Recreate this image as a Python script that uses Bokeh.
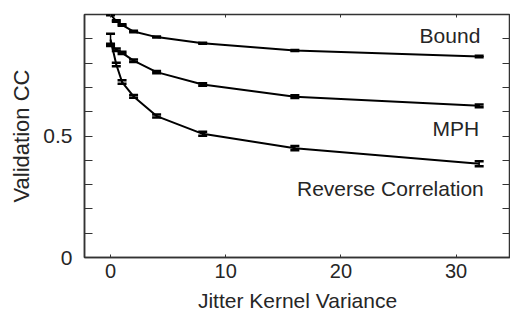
from bokeh.plotting import figure
from bokeh.models import (ColumnDataSource, Whisker, TeeHead, FixedTicker, LinearAxis,
                          Range1d, Label)
from bokeh.embed import file_html
from bokeh.resources import INLINE

# ---- data ----
variance = [0, 0.5, 1, 2, 4, 8, 16, 32]
bound_cc = [1.0, 0.973, 0.957, 0.93, 0.907, 0.882, 0.852, 0.827]
bound_err = [0.003, 0.003, 0.003, 0.003, 0.002, 0.002, 0.002, 0.003]
mph_cc = [0.875, 0.855, 0.842, 0.81, 0.763, 0.712, 0.662, 0.624]
mph_err = [0.005, 0.005, 0.005, 0.005, 0.005, 0.005, 0.006, 0.006]
rc_cc = [0.897, 0.794, 0.722, 0.663, 0.582, 0.509, 0.45, 0.386]
rc_err = [0.024, 0.007, 0.007, 0.006, 0.006, 0.008, 0.009, 0.01]
series_names = ["Bound", "MPH", "Reverse Correlation"]
x_ticks = [0, 10, 20, 30]
y_major = [0, 0.5]
y_minor = [0.1, 0.2, 0.3, 0.4, 0.6, 0.7, 0.8, 0.9, 1.0]
y_all = [0, 0.1, 0.2, 0.3, 0.4, 0.5, 0.6, 0.7, 0.8, 0.9, 1.0]

FONT = "Liberation Sans"
TXT = "#262626"
AX = "#333333"

p = figure(width=510, height=315, output_backend="svg", toolbar_location=None,
           x_range=Range1d(-2.26, 34.72), y_range=Range1d(0, 1.0),
           min_border_left=84, min_border_right=0, min_border_top=14,
           min_border_bottom=58)
p.background_fill_color = "white"
p.border_fill_color = "white"
p.grid.visible = False
p.outline_line_color = AX
p.outline_line_width = 1.5

for ys, es in [(bound_cc, bound_err), (mph_cc, mph_err), (rc_cc, rc_err)]:
    src = ColumnDataSource(dict(x=variance, y=ys,
                                lo=[a - b for a, b in zip(ys, es)],
                                hi=[a + b for a, b in zip(ys, es)]))
    p.line("x", "y", source=src, line_color="black", line_width=2)
    w = Whisker(source=src, base="x", lower="lo", upper="hi",
                line_color="black", line_width=1.5,
                upper_head=TeeHead(size=9, line_width=2.5, line_color="black"),
                lower_head=TeeHead(size=9, line_width=2.5, line_color="black"))
    p.add_layout(w)

# axes
xa = p.xaxis[0]
xa.ticker = FixedTicker(ticks=x_ticks)
xa.minor_tick_line_color = None
xa.major_tick_in = 3
xa.major_tick_out = 0
xa.axis_line_color = AX
xa.axis_line_width = 1.5
xa.major_tick_line_color = AX
xa.major_label_text_font = FONT
xa.major_label_text_font_size = "20px"
xa.major_label_text_color = TXT
xa.major_label_standoff = 6
xa.axis_label = "Jitter Kernel Variance"
xa.axis_label_text_font = FONT
xa.axis_label_text_font_size = "21px"
xa.axis_label_text_font_style = "normal"
xa.axis_label_text_color = TXT
xa.axis_label_standoff = 8

ya = p.yaxis[0]
ya.ticker = FixedTicker(ticks=y_major, minor_ticks=y_minor)
ya.major_tick_in = 8
ya.major_tick_out = 0
ya.minor_tick_in = 8
ya.minor_tick_out = 0
ya.axis_line_color = AX
ya.axis_line_width = 1.5
ya.major_tick_line_color = AX
ya.minor_tick_line_color = AX
ya.major_label_text_font = FONT
ya.major_label_text_font_size = "21px"
ya.major_label_text_color = TXT
ya.major_label_standoff = 12
ya.axis_label = "Validation CC"
ya.axis_label_text_font = FONT
ya.axis_label_text_font_size = "22px"
ya.axis_label_text_font_style = "normal"
ya.axis_label_text_color = TXT
ya.axis_label_standoff = 6

# top and right: tick marks only (no labels)
top = LinearAxis(ticker=FixedTicker(ticks=[], minor_ticks=x_ticks),
                 minor_tick_in=3, minor_tick_out=0, major_tick_line_color=None,
                 axis_line_color=None, minor_tick_line_color=AX)
p.add_layout(top, "above")
right = LinearAxis(ticker=FixedTicker(ticks=[], minor_ticks=y_all),
                   minor_tick_in=8, minor_tick_out=0, major_tick_line_color=None,
                   axis_line_color=None, minor_tick_line_color=AX)
p.add_layout(right, "right")

# "1" tick label, drawn slightly below the top edge as in the original
p.add_layout(Label(x=-2.26, y=0.955, text="1", text_align="right", text_baseline="middle",
                   x_offset=-12, text_font=FONT, text_font_size="21px",
                   text_color=TXT))

# series labels
lab_pos = [(32.1, 0.913), (32.0, 0.531), (32.4, 0.284)]
for name, (lx, ly) in zip(series_names, lab_pos):
    p.add_layout(Label(x=lx, y=ly, text=name, text_align="right", text_baseline="middle",
                       text_font=FONT, text_font_size="21px", text_color=TXT))

open("out.html", "w").write(file_html(p, INLINE))
